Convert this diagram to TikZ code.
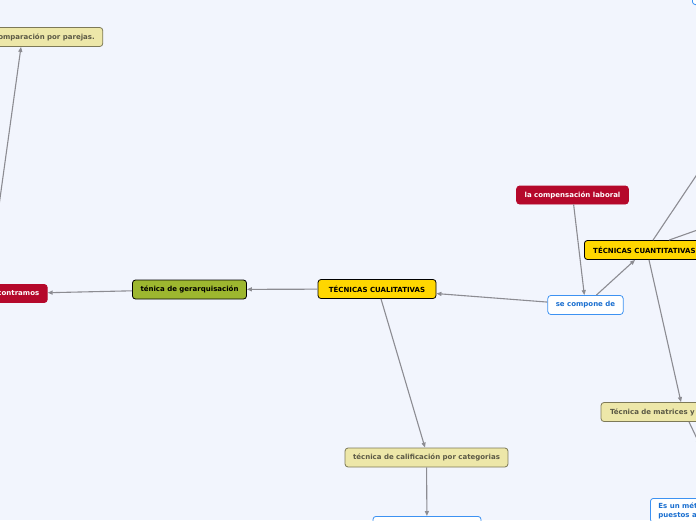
\documentclass[tikz,border=0pt]{standalone}
\usepackage{fontspec}
\setsansfont{DejaVu Sans}
\usepackage{tikz}
\usetikzlibrary{arrows.meta, positioning, calc}
\definecolor{mapbg}{HTML}{F2F5FD}
\definecolor{mapgold}{HTML}{FFD700}
\definecolor{mapred}{HTML}{B5082B}
\definecolor{mapgreen}{HTML}{9DB72F}
\definecolor{mapkhaki}{HTML}{EDE7A9}
\definecolor{mapkhakiline}{HTML}{7D7957}
\definecolor{mapkhakitext}{HTML}{5B5945}
\definecolor{mapblue}{HTML}{3D92F2}
\definecolor{mapbluetext}{HTML}{1A6FD0}
\definecolor{maparrow}{HTML}{8C8C92}
\begin{document}
\begin{tikzpicture}[
  x=1pt, y=-1pt,
  base/.style={rounded corners=3pt, minimum height=19pt, inner xsep=8pt, inner ysep=2pt, font=\sffamily\bfseries\fontsize{7}{9}\selectfont, line width=0.8pt},
  main/.style={base, draw=black, fill=mapgold, text=black},
  redbox/.style={base, draw=mapred, fill=mapred, text=white, minimum height=18pt},
  greenbox/.style={base, draw=black, fill=mapgreen, text=black},
  khaki/.style={base, draw=mapkhakiline, fill=mapkhaki, text=mapkhakitext},
  bluebox/.style={base, draw=mapblue, fill=white, text=mapbluetext},
  arr/.style={-{Triangle[length=5pt,width=4pt]}, line width=1.1pt, maparrow}
]
\useasboundingbox (0,0) rectangle (696,520);
\fill[mapbg] (0,0) rectangle (696,520);
\clip (0,0) rectangle (696,520);

\node[khaki] (comp) at (44,37) {Comparación por parejas.};
\node[redbox, minimum width=67pt] (encon) at (13.5,293.5) {encontramos};
\node[greenbox, minimum width=113pt] (gerar) at (189.5,289.5) {ténica de gerarquisación};
\node[main, minimum width=118pt] (cuali) at (377,289) {TÉCNICAS CUALITATIVAS};
\node[bluebox, minimum width=75pt] (comp_de) at (585.5,305) {se compone de};
\node[redbox, minimum width=109pt] (laboral) at (572.5,195) {la compensación laboral};
\node[main, anchor=west, minimum width=120pt] (cuanti) at (584,250) {TÉCNICAS CUANTITATIVAS};
\node[khaki, minimum width=165pt, text width=147pt, align=left] (matri) at (683.5,412) {Técnica de matrices y};
\node[khaki, minimum width=161pt] (categ) at (426.5,457.5) {técnica de calificación por categorias};
\node[bluebox, anchor=north, minimum width=108pt, minimum height=24pt] (bajo) at (427,516) {};
\node[bluebox, anchor=north west, align=left, inner ysep=4pt] (metodo) at (650,498) {Es un método\\puestos a};
\node[bluebox, anchor=south west, minimum width=60pt, minimum height=24pt] (arriba) at (692,5) {};

\coordinate (izq) at (-3,220);
\coordinate (der1) at (710,155);
\coordinate (der2) at (720,222);
\coordinate (der3) at (700,445);

\draw[arr] (cuali) -- (gerar);
\draw[arr] (gerar) -- (encon);
\draw[arr] (izq) -- ([xshift=-23pt]comp.south);
\draw[arr] (laboral) -- (comp_de);
\draw[arr] (comp_de) -- (cuali);
\draw[arr] (comp_de) -- (cuanti.south west -| 635,0);
\draw[arr] (cuanti.south west -| 649,0) -- (matri.north west -| 681,0);
\draw[arr] (cuanti.north west -| 653,0) -- (der1);
\draw[arr] (cuanti.north west -| 669,0) -- (der2);
\draw[arr] (matri.south west -| 689,0) -- (der3);
\draw[arr] (cuali.south west -| 381,0) -- (categ.north west -| 425,0);
\draw[arr] (categ) -- (bajo);
\end{tikzpicture}
\end{document}
